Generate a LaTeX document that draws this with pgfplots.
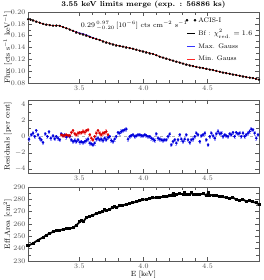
\documentclass[border=0pt]{standalone}
\usepackage{pgfplots}
\usepackage{pgfplotstable}
\pgfplotsset{compat=1.18}

\pgfplotstableread{
x y
3.100 0.1877
3.120 0.1870
3.139 0.1860
3.165 0.1838
3.191 0.1820
3.217 0.1800
3.243 0.1788
3.269 0.1778
3.295 0.1771
3.321 0.1772
3.347 0.1766
3.373 0.1745
3.399 0.1726
3.425 0.1705
3.451 0.1682
3.477 0.1657
3.503 0.1637
3.529 0.1622
3.555 0.1604
3.581 0.1580
3.606 0.1559
3.632 0.1545
3.658 0.1526
3.684 0.1505
3.710 0.1486
3.736 0.1470
3.762 0.1453
3.788 0.1437
3.814 0.1425
3.840 0.1416
3.866 0.1403
3.892 0.1390
3.918 0.1380
3.944 0.1364
3.970 0.1347
3.996 0.1334
4.022 0.1319
4.048 0.1303
4.074 0.1291
4.100 0.1270
4.126 0.1246
4.152 0.1230
4.178 0.1213
4.204 0.1195
4.230 0.1179
4.256 0.1162
4.282 0.1146
4.308 0.1130
4.334 0.1112
4.360 0.1098
4.386 0.1085
4.412 0.1073
4.438 0.1062
4.464 0.1052
4.490 0.1040
4.516 0.1028
4.542 0.1018
4.568 0.1005
4.594 0.0990
4.619 0.0978
4.645 0.0967
4.671 0.0956
4.697 0.0945
4.723 0.0934
4.749 0.0923
4.775 0.0912
4.801 0.0900
4.827 0.0892
4.853 0.0883
4.876 0.0870
4.900 0.0858
}\flux

\pgfplotstableread{
x y
3.450 0.1684
3.477 0.1662
3.503 0.1645
3.529 0.1632
3.555 0.1613
3.581 0.1588
3.606 0.1565
3.632 0.1548
}\maxg

\pgfplotstableread{
x y
3.108 -0.33
3.126 0.21
3.139 0.41
3.152 0.00
3.165 0.74
3.178 0.21
3.191 -0.21
3.204 -0.41
3.217 -0.74
3.235 0.33
3.251 0.00
3.264 0.58
3.277 -0.21
3.295 0.08
3.308 -0.29
3.321 0.00
3.334 -0.21
3.347 -0.41
3.360 0.33
3.373 0.08
3.386 0.21
3.399 -0.08
3.412 0.08
3.425 0.00
3.438 -0.41
3.451 -0.62
3.464 -0.49
3.477 -0.62
3.490 -0.41
3.503 -0.70
3.516 -0.62
3.529 -0.74
3.542 -0.62
3.555 -0.49
3.568 -0.33
3.581 -0.82
3.594 -0.91
3.606 -1.03
3.619 -0.82
3.632 -0.33
3.645 -0.21
3.658 -0.41
3.671 -0.33
3.684 -0.49
3.697 -0.21
3.710 -0.41
3.723 -0.12
3.736 0.00
3.749 -0.49
3.762 -0.62
3.775 -0.33
3.788 0.00
3.801 0.49
3.814 0.41
3.827 0.62
3.840 0.74
3.853 0.82
3.866 0.91
3.879 -0.33
3.892 0.00
3.905 0.12
3.918 0.21
3.931 0.00
3.944 0.08
3.957 0.21
3.970 0.21
3.983 0.12
3.996 0.08
4.009 0.21
4.022 0.12
4.035 0.00
4.048 0.00
4.061 -0.21
4.074 -0.33
4.087 -0.49
4.100 0.33
4.113 -0.21
4.126 -0.33
4.139 -0.41
4.152 -0.49
4.165 -0.41
4.178 -0.41
4.191 0.00
4.204 0.29
4.217 -1.03
4.230 -0.62
4.243 -0.41
4.256 -0.82
4.269 -0.41
4.282 0.21
4.295 -0.33
4.308 -0.62
4.321 -0.33
4.334 0.21
4.347 -0.41
4.360 -0.74
4.373 -0.41
4.386 -0.33
4.399 0.00
4.412 0.41
4.425 0.21
4.438 -0.62
4.451 0.08
4.464 0.21
4.477 0.41
4.490 -0.41
4.503 -1.03
4.516 0.00
4.529 0.41
4.542 0.08
4.555 -0.21
4.568 0.33
4.581 0.62
4.594 0.33
4.607 0.41
4.619 0.00
4.632 0.21
4.645 0.08
4.658 0.00
4.671 0.33
4.684 0.21
4.697 0.49
4.710 0.00
4.723 0.49
4.736 0.33
4.749 0.41
4.762 0.00
4.775 0.41
4.788 0.00
4.801 0.21
4.814 0.41
4.827 0.62
4.840 0.91
4.853 0.82
4.866 0.41
4.879 -0.21
4.892 0.21
}\resblue

\pgfplotstableread{
x y
3.360 0.21
3.373 0.12
3.386 0.12
3.399 0.21
3.412 0.12
3.425 0.12
3.438 0.49
3.451 0.74
3.464 0.33
3.477 0.21
3.490 0.41
3.503 0.49
3.516 0.49
3.529 0.62
3.542 0.53
3.555 0.74
3.568 0.82
3.581 0.21
3.594 -0.21
3.606 -0.41
3.619 0.00
3.632 0.41
3.645 0.74
3.658 0.41
3.671 0.21
3.684 0.41
3.697 0.49
3.710 0.62
3.723 0.21
}\resred

\pgfplotstableread{
x y
3.100 242.4
3.139 244.3
3.178 247.0
3.217 249.1
3.243 251.0
3.269 252.3
3.295 253.7
3.321 254.5
3.347 255.0
3.373 255.6
3.399 256.1
3.425 256.4
3.451 256.9
3.477 259.0
3.503 261.7
3.516 262.6
3.529 261.7
3.555 265.2
3.581 266.3
3.606 267.1
3.632 268.5
3.658 269.0
3.684 269.8
3.697 271.7
3.710 270.6
3.736 272.0
3.762 273.3
3.775 273.9
3.788 273.3
3.814 274.7
3.840 275.2
3.866 276.0
3.892 276.5
3.918 277.4
3.944 277.9
3.970 278.7
3.996 279.8
4.022 280.0
4.048 280.6
4.074 281.1
4.100 281.4
4.126 281.7
4.152 281.9
4.178 281.9
4.204 282.7
4.217 283.5
4.230 284.6
4.243 283.3
4.256 283.8
4.282 284.6
4.308 284.1
4.321 285.2
4.334 284.1
4.360 283.8
4.373 285.2
4.386 284.1
4.412 284.1
4.438 283.8
4.464 284.6
4.490 283.3
4.503 285.2
4.516 283.5
4.542 283.3
4.568 282.7
4.594 282.5
4.619 281.9
4.645 281.4
4.671 280.6
4.697 281.4
4.723 279.8
4.749 279.2
4.775 279.8
4.801 278.4
4.827 278.7
4.853 277.9
4.879 277.1
4.900 276.0
}\effarea

\begin{document}
\fontsize{7.5}{9}\selectfont
\begin{tikzpicture}
\pgfplotsset{
  every axis/.append style={
    scale only axis, width=231pt,
    xmin=3.1, xmax=4.9,
    xtick={3.5,4.0,4.5},
    minor x tick num=4,
    minor y tick num=1,
    axis line style={gray!70!black},
    every tick/.style={gray!70!black},
    tick label style={font=\fontsize{7.5}{9}\selectfont, text=gray!60!black},
    label style={font=\fontsize{7.5}{9}\selectfont},
    xticklabel style={/pgf/number format/.cd, fixed, fixed zerofill, precision=1},
    tick align=inside,
    every axis y label/.style={at={(axis description cs:-0.088,0.5)}, rotate=90, anchor=center},
  }
}
\path[use as bounding box] (0,0) rectangle (264pt,280pt);

% Panel 1
\begin{axis}[
  at={(28pt,197pt)}, anchor=south west,
  height=71pt,
  ymin=0.08, ymax=0.20,
  ytick={0.08,0.10,...,0.20},
  yticklabel style={/pgf/number format/.cd, fixed, fixed zerofill, precision=2},
  ylabel={Flux [cts s$^{-1}$ keV$^{-1}$]},
  title={\bfseries 3.55 keV limits merge (exp. : 56886 ks)},
  title style={font=\fontsize{7.3}{9}\selectfont, yshift=-5pt},
  legend style={draw=none, fill=none, at={(0.985,0.97)}, anchor=north east,
    font=\fontsize{6.6}{8}\selectfont, row sep=2.6pt, inner sep=1pt},
  legend cell align=left,
  legend image code/.code={\draw[#1, line width=0.6pt] (0pt,0pt) -- (8pt,0pt);},
]
\addplot[only marks, mark=*, mark size=0.9pt, black, forget plot,
  error bars/.cd, y dir=both, y fixed=0.0008, error bar style={gray}]
  table[x=x,y=y]{\flux};
\addlegendimage{legend image code/.code={\fill[black] (0pt,0pt) circle (1.1pt); \fill[black] (8pt,0pt) circle (1.1pt);}}
\addlegendentry{ACIS-I}
\addplot[black, line width=0.5pt] table[x=x,y=y]{\flux};
\addlegendentry{Bf : $\chi^2_{\rm red.}=1.6$}
\addplot[blue!80, line width=0.8pt] table[x=x,y=y]{\maxg};
\addlegendentry{Max. Gauss}
\addplot[red!85, line width=0.6pt] table[x=x,y=y]{\flux};
\addlegendentry{Min. Gauss}
\node[anchor=west, font=\fontsize{6.9}{8}\selectfont] at (axis cs:3.49,0.176)
  {$0.29\,^{0.97}_{-0.20}\,[10^{-6}]$ cts cm$^{-2}$ s$^{-1}$};
\end{axis}

% Panel 2
\begin{axis}[
  at={(28pt,107pt)}, anchor=south west,
  height=73pt,
  ymin=-4.5, ymax=4.5,
  ytick={-4,-2,0,2,4},
  ylabel={Residuals [per cent]},
]
\addplot[gray!60, dashed, line width=0.5pt] coordinates {(3.1,0) (4.9,0)};
\addplot[only marks, mark=*, mark size=1.1pt, blue!85!black,
  error bars/.cd, y dir=both, y fixed=0.22, error bar style={blue!35}]
  table[x=x,y=y]{\resblue};
\addplot[only marks, mark=*, mark size=1.1pt, red!85!black,
  error bars/.cd, y dir=both, y fixed=0.22, error bar style={red!35}]
  table[x=x,y=y]{\resred};
\end{axis}

% Panel 3
\begin{axis}[
  at={(28pt,19pt)}, anchor=south west,
  height=74pt,
  ymin=230, ymax=290,
  ytick={230,240,...,290},
  ylabel={Eff.Area [cm$^2$]},
  xlabel={E [keV]},
  xlabel shift=-3pt,
]
\addplot[black, line width=1.8pt, mark=square*, mark size=0.6pt] table[x=x,y=y]{\effarea};
\end{axis}
\end{tikzpicture}
\end{document}
